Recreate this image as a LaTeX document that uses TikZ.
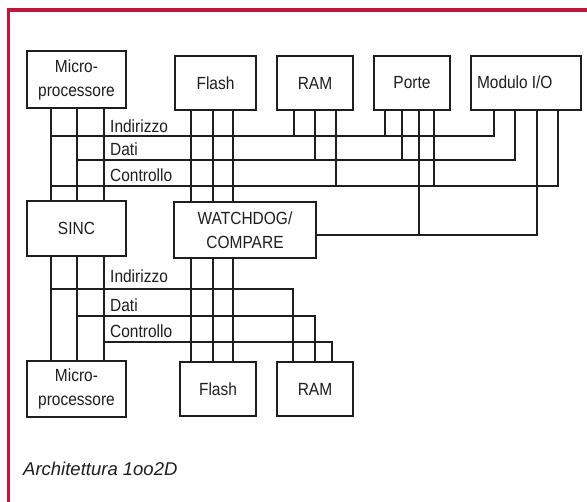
\documentclass[tikz,border=0pt]{standalone}
\usepackage{fontspec}
\setmainfont{Liberation Sans}
\newfontfamily\narrowsans[FakeStretch=0.88]{Liberation Sans}
\definecolor{framered}{RGB}{192,22,60}
\definecolor{ink}{RGB}{30,30,30}
\begin{document}
\begin{tikzpicture}[x=1pt,y=-1pt,
  blk/.style={draw=ink, text=ink, line width=2.4pt, inner sep=0pt, align=center,
    font=\narrowsans\fontsize{17.6}{24}\selectfont},
  bus/.style={draw=ink, line width=2.4pt},
  lbl/.style={anchor=base west, inner sep=0pt, text=ink, font=\narrowsans\fontsize{17.6}{20}\selectfont}]
\useasboundingbox (0,0) rectangle (587,502);
\fill[white] (0,0) rectangle (587,502);
\draw[framered, line width=3.5pt] (8.5,502) -- (8.5,10) -- (587,10);

% boxes
\node[blk, minimum width=99, minimum height=57] (mp1) at (76.5,79.5) {Micro-\\processore};
\node[blk, minimum width=81, minimum height=54] (fl1) at (215.5,83) {Flash};
\node[blk, minimum width=76, minimum height=54] (ram1) at (315,83) {RAM};
\node[blk, minimum width=76, minimum height=54] (porte) at (412,83) {Porte};
\node[blk, minimum width=110, minimum height=54, text width=98, inner xsep=6pt, align=left] (mio) at (526,83) {\raisebox{1.5pt}{Modulo\hspace{4pt}I/O}};
\node[blk, minimum width=99, minimum height=55] (sinc) at (76.5,228.5) {SINC};
\node[blk, minimum width=142, minimum height=56] (wd) at (245,230) {WATCHDOG/\\COMPARE};
\node[blk, minimum width=99, minimum height=56] (mp2) at (76.5,389) {Micro-\\processore};
\node[blk, minimum width=76, minimum height=54] (fl2) at (218,389) {Flash};
\node[blk, minimum width=76, minimum height=54] (ram2) at (315,389) {RAM};

% upper bus coordinates
\coordinate (ua) at (51,136);
\coordinate (ud) at (77,160);
\coordinate (uc) at (51,186);
\coordinate (uw) at (537,235);

\foreach \x in {51,77,104} \draw[bus] (\x,0 |- mp1.south) -- (\x,0 |- sinc.north);
\foreach \x in {191,213,233} \draw[bus] (\x,0 |- fl1.south) -- (\x,0 |- wd.north);
\draw[bus] (ua) -- (494,136) -- (494,0 |- mio.south);
\draw[bus] (ud) -- (515,160) -- (515,0 |- mio.south);
\draw[bus] (uc) -- (558,186) -- (558,0 |- mio.south);
\draw[bus] (wd.east |- uw) -- (uw) -- (537,0 |- mio.south);
\draw[bus] (294,0 |- ram1.south) -- (294,0 |- ua);
\draw[bus] (315,0 |- ram1.south) -- (315,0 |- ud);
\draw[bus] (336,0 |- ram1.south) -- (336,0 |- uc);
\draw[bus] (385,0 |- porte.south) -- (385,0 |- ua);
\draw[bus] (402,0 |- porte.south) -- (402,0 |- ud);
\draw[bus] (419,0 |- porte.south) -- (419,0 |- uw);
\draw[bus] (434,0 |- porte.south) -- (434,0 |- uc);

\foreach \x in {51,77,104} \draw[bus] (\x,0 |- sinc.south) -- (\x,0 |- mp2.north);
\foreach \x in {191,213,233} \draw[bus] (\x,0 |- wd.south) -- (\x,0 |- fl2.north);
\coordinate (la) at (51,289);
\coordinate (ld) at (77,316);
\coordinate (lc) at (104,342);
\draw[bus] (la) -- (293,289) -- (293,0 |- ram2.north);
\draw[bus] (ld) -- (315,316) -- (315,0 |- ram2.north);
\draw[bus] (lc) -- (332,342) -- (332,0 |- ram2.north);

\node[lbl] (l1) at (110,133) {Indirizzo};
\node[lbl] (l2) at (110,156) {Dati};
\node[lbl] (l3) at (110,182) {Controllo};
\node[lbl] (l4) at (110,283) {Indirizzo};
\node[lbl] (l5) at (110,312) {Dati};
\node[lbl] (l6) at (110,338) {Controllo};

\node[anchor=base west, inner sep=0pt, text=ink, font=\fontsize{18.5}{22}\selectfont\itshape] (cap) at (23,476) {Architettura 1oo2D};
\end{tikzpicture}
\end{document}
